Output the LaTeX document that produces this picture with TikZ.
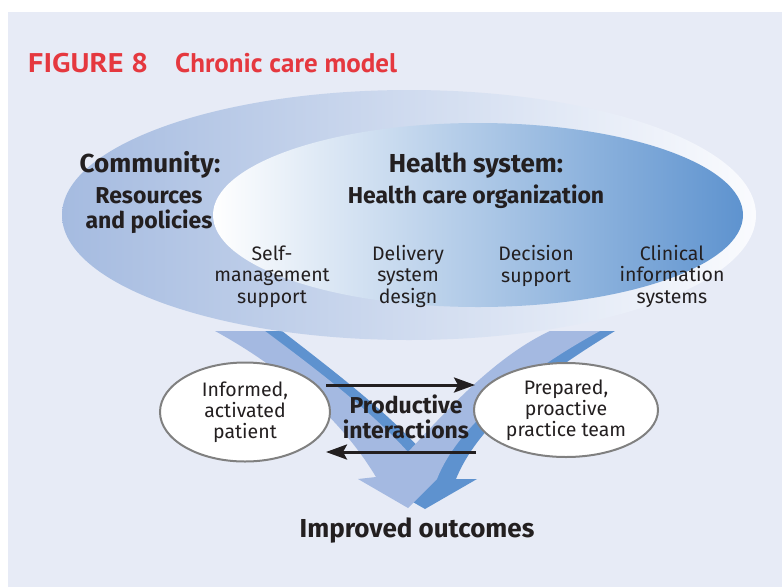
\documentclass[tikz,border=0pt]{standalone}
\usepackage{fontspec}
\setmainfont{Fira Sans}
\newfontfamily\titlefont{PT Sans}
\usetikzlibrary{shapes.geometric,arrows.meta,calc}

\definecolor{pagebg}{HTML}{E7EBF6}
\definecolor{titlered}{HTML}{E5383F}
\definecolor{ink}{HTML}{231F20}
\definecolor{outerL}{HTML}{A5BBE0}
\definecolor{outerM}{HTML}{D2DCEF}
\definecolor{outerR}{HTML}{FAFBFE}
\definecolor{innerM}{HTML}{A9C0E3}
\definecolor{innerR}{HTML}{5E93CF}
\definecolor{armlight}{HTML}{A4B9E1}
\definecolor{armdark}{HTML}{5E92CF}
\definecolor{ovalgray}{HTML}{808080}

\tikzset{
  lbl/.style={text=ink, inner sep=0pt, anchor=base, align=center},
  headline/.style={lbl, font=\bfseries\fontsize{26}{29}\selectfont},
  subline/.style={lbl, font=\bfseries\fontsize{23}{24.5}\selectfont},
  element/.style={lbl, font=\fontsize{19.5}{21.5}\selectfont},
  oval/.style={ellipse, draw=ovalgray, line width=2pt, fill=white, inner sep=0pt,
    text=ink, align=center, font=\fontsize{19.5}{21}\selectfont},
  conn/.style={draw=ink, line width=3pt, -{Stealth[length=21pt,width=15pt,inset=4pt]}},
  titletext/.style={text=titlered, inner sep=0pt, anchor=base west,
    font=\titlefont\bfseries\fontsize{27}{30}\selectfont},
}

\begin{document}
\begin{tikzpicture}[x=1pt,y=-1pt]
  \useasboundingbox (0,0) rectangle (782,587);
  \fill[white] (0,0) rectangle (782,587);
  \fill[pagebg] (8,12) rectangle (782,587);

  % title
  \node[titletext] (fig) at (28,72) {\scalebox{1.12}[1]{FIGURE 8}};
  \node[titletext] (title) at (175,72) {Chronic care model};

  % the two arms converging into the arrow (dark ribbon edge first)
  \fill[armdark] (230,331) -- (282,331)
    .. controls (335,372) and (387,412) .. (423,452)
    .. controls (455,418) and (507,358) .. (565,331)
    -- (615,331)
    .. controls (548,372) and (480,420) .. (456,479)
    -- (477,479) -- (425,509) -- (373,479) -- (391,477)
    .. controls (360,425) and (305,372) .. (230,331) -- cycle;
  \fill[armlight] (215,331) -- (265,331)
    .. controls (320,372) and (372,412) .. (408,452)
    .. controls (440,418) and (492,358) .. (550,331)
    -- (600,331)
    .. controls (528,370) and (458,425) .. (437,479)
    -- (408,508) -- (358,479) -- (376,477)
    .. controls (345,425) and (290,372) .. (215,331) -- cycle;

  % community and health system ellipses
  \path[left color=outerL, middle color=outerM, right color=outerR]
    (409,215) ellipse [x radius=347pt, y radius=125pt];
  \path[left color=white, middle color=innerM, right color=innerR]
    (478,215) ellipse [x radius=265pt, y radius=92pt];

  % ellipse labels (multi-line nodes sit on the baseline of their last line)
  \node[headline] (community) at (150,172) {Community:};
  \node[subline] (resources) at (149,228) {Resources\\and policies};
  \node[headline] (health) at (476,172) {Health system:};
  \node[subline] (org) at (476,203) {Health care organization};

  \node[element] (selfman) at (272,303) {Self-\\management\\support};
  \node[element] (delivery) at (408,303) {Delivery\\system\\design};
  \node[element] (decision) at (536,282) {Decision\\support};
  \node[element] (clinical) at (672,303) {Clinical\\information\\systems};

  % patient and team
  \node[oval, minimum width=170pt, minimum height=99pt] (pat) at (245,412)
    {Informed,\\activated\\patient};
  \node[oval, minimum width=184pt, minimum height=94pt] (team) at (566,410)
    {Prepared,\\proactive\\practice team};

  \draw[conn] ($(pat.east)+(-5,-27)$) -- ($(team.west)+(2,-25)$);
  \draw[conn] ($(team.west)+(3,42)$) -- ($(pat.east)+(-5,40)$);

  \node[subline] (interact) at (406,438) {Productive\\interactions};
  \node[headline] (outcomes) at (417,537) {Improved outcomes};
\end{tikzpicture}
\end{document}
